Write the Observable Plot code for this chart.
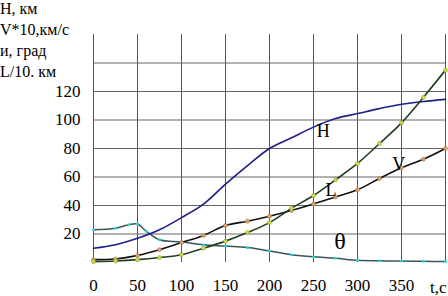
<!DOCTYPE html>
<html><head><meta charset="utf-8">
<script src="https://cdn.jsdelivr.net/npm/d3@7"></script>
<script src="https://cdn.jsdelivr.net/npm/@observablehq/plot@0.6"></script>
<style>
html,body{margin:0;padding:0;background:#fff;}
#chart{width:448px;height:296px;overflow:hidden;}
#chart svg, #chart svg text{font-family:"Liberation Serif","Times New Roman",serif !important;}
</style></head>
<body><div id="chart"></div>
<script>
const tH = [0,25,50,75,100,125,150,175,200,225,250,275,300,325,350,375,400];
const H  = [10,12.5,17,23,31.5,41,55,68,80,87.5,95,101,104.5,108,111,113,114.5];
const tV = [0,25,50,75,100,125,150,175,200,225,250,275,300,325,350,375,400];
const V  = [2,2.5,5,9,14,19,26,29,32.5,36.5,41,46,51,59,66.5,72.5,80];
const tL = [0,25,50,75,100,125,150,175,200,225,250,275,300,325,350,375,400];
const L  = [0.5,1,2,3.5,5.5,10,15,21,28,38,47,58,69.5,83.5,98,116,135];
const tT = [0,25,40,50,60,75,100,125,150,175,200,225,250,275,300,325,350,375,400];
const TH = [23,24,26.5,27,22,16,14.5,12.5,11.5,10.5,8,5.5,4,3,1.5,1.2,1,0.8,0.7];
const xTicks = [0,50,100,150,200,250,300,350];
const xGrid = [0,50,100,150,200,250,300,350,400];
const yTicks = [20,40,60,80,100,120];
const yGrid = [20,40,60,80,100,120,140];
const yTitle = ["H, км","V*10,км/с","и, град","L/10. км"];
const seriesNames = ["H","L","V","θ"];

const mk = (t,v) => t.map((x,i)=>({t:x,v:v[i]}));
const dH = mk(tH,H), dV = mk(tV,V), dL = mk(tL,L), dT = mk(tT,TH);
const font = "'Liberation Serif', 'Times New Roman', serif";

const chart = Plot.plot({
  width:448, height:296,
  marginLeft:93, marginRight:3, marginTop:34, marginBottom:34,
  style:{fontFamily:font, fontSize:"17px", background:"#fff", color:"#000"},
  x:{domain:[0,400]},
  y:{domain:[0,160]},
  marks:[
    Plot.ruleX(xGrid,{x:d=>d, y1:0, y2:160, stroke:"#555", strokeWidth:1}),
    Plot.ruleY(yGrid,{y:d=>d, stroke:"#666", strokeWidth:1}),
    Plot.axisY({ticks:yTicks, tickSize:0, tickPadding:13, fontSize:17, label:null}),
    Plot.axisX({ticks:xTicks, tickSize:0, tickPadding:16, fontSize:17, label:null}),
    Plot.text(["t,c"],{x:400, y:0, textAnchor:"end", dx:1, dy:25, fontSize:17}),
    Plot.line(dT,{x:"t",y:"v",stroke:"#3a5558",strokeWidth:1.5,curve:"catmull-rom"}),
    Plot.dot(dT,{x:"t",y:"v",r:1.5,fill:"#30d0d8",stroke:null}),
    Plot.line(dH,{x:"t",y:"v",stroke:"#1e1e8a",strokeWidth:1.6,curve:"catmull-rom"}),
    Plot.line(dV,{x:"t",y:"v",stroke:"#111",strokeWidth:1.6,curve:"catmull-rom"}),
    Plot.dot(dV,{x:"t",y:"v",r:2,fill:"#d8a070",stroke:"#a07040",strokeWidth:0.5}),
    Plot.line(dL,{x:"t",y:"v",stroke:"#1f3f1f",strokeWidth:1.6,curve:"catmull-rom"}),
    Plot.dot(dL,{x:"t",y:"v",r:2,fill:"#d0d850",stroke:"#909020",strokeWidth:0.5}),
    Plot.text([seriesNames[0]],{x:261,y:92,fontSize:18}),
    Plot.text([seriesNames[1]],{x:270,y:51,fontSize:18}),
    Plot.text([seriesNames[2]],{x:347,y:69,fontSize:18}),
    Plot.text([seriesNames[3]],{x:280,y:15,fontSize:24})
  ]
});
document.getElementById("chart").appendChild(chart);
const svg = d3.select(chart);
yTitle.forEach((s,i)=>{
  svg.append("text").attr("x",0).attr("y",14+i*21)
    .attr("text-anchor","start")
    .attr("font-family",font).attr("font-size",16).attr("fill","#000").text(s);
});
</script>
</body></html>
